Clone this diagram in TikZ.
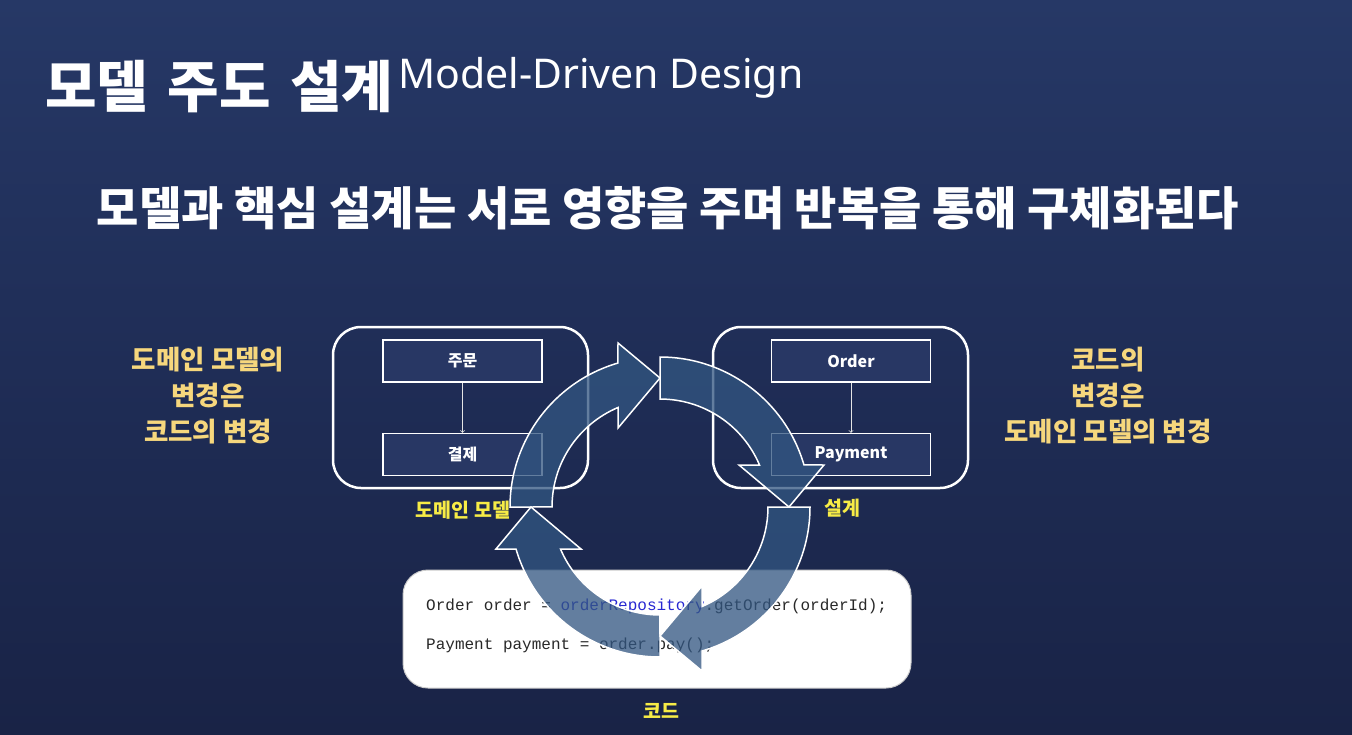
\documentclass[tikz,border=0pt]{standalone}
\usepackage{fontspec}
\setmainfont{Noto Sans}
\newfontfamily\krfont{Noto Sans CJK KR}
\newfontfamily\codefont{Liberation Mono}
\usetikzlibrary{positioning}

\definecolor{bgtop}{RGB}{38,56,102}
\definecolor{bgmid}{RGB}{31,45,86}
\definecolor{bgbot}{RGB}{25,35,70}
\definecolor{boxfill}{RGB}{40,55,100}
\definecolor{labelyellow}{RGB}{247,236,70}
\definecolor{notegold}{RGB}{246,215,125}
\definecolor{cyclefill}{RGB}{50,86,129}
\definecolor{codeblue}{RGB}{40,40,210}
\definecolor{codegray}{RGB}{40,40,40}

\tikzset{
  frame/.style={draw=white, line width=2.5pt, rounded corners=28pt,
    minimum width=255pt, minimum height=161pt},
  entity/.style={draw=white, line width=1.3pt, fill=boxfill, text=white,
    minimum width=159pt, minimum height=42pt, inner sep=0pt,
    font=\krfont\bfseries\fontsize{16}{18}\selectfont},
  caption/.style={text=labelyellow, inner sep=0pt,
    font=\krfont\bfseries\fontsize{19.5}{21}\selectfont},
  note/.style={text=notegold, align=center, inner sep=0pt,
    font=\krfont\bfseries\fontsize{26.5}{36}\selectfont},
  codebox/.style={fill=white, draw=gray!40, line width=1pt, rounded corners=25pt,
    minimum width=508pt, minimum height=118pt},
  codeline/.style={anchor=base west, inner sep=0pt, text=codegray,
    font=\codefont\fontsize{16}{18}\selectfont},
  cyclearrow/.style={fill=cyclefill, fill opacity=0.76, draw=white,
    line width=1.5pt, line join=miter},
}

\begin{document}
\begin{tikzpicture}[x=1pt,y=-1pt]
        \useasboundingbox (0,0) rectangle (1352,734);
        \shade[top color=bgtop, bottom color=bgbot, middle color=bgmid] (0,0) rectangle (1352,734);
        % title
        \node[anchor=base west, inner sep=0pt, text=white,
          font=\krfont\bfseries\fontsize{56}{62}\selectfont] at (45,107) (title)
          {모델\hspace{0.12em} 주도\hspace{0.12em} 설계};
        \node[anchor=base west, inner sep=0pt, text=white,
          font=\fontsize{41}{46}\selectfont] at (398,88) (english) {Model-Driven Design};
        \node[inner sep=0pt, text=white,
          font=\krfont\bfseries\fontsize{46}{50}\selectfont] at (668,208) (subtitle)
          {모델과 핵심 설계는 서로 영향을 주며 반복을 통해 구체화된다};
        % side notes
        \node[note] at (208,396) (leftnote) {도메인 모델의\\변경은\\코드의 변경};
        \node[note] at (1108,396) (rightnote) {코드의\\변경은\\도메인 모델의 변경};
        % domain model
        \node[frame] at (460.5,407.5) (domainframe) {};
        \node[entity] at (462.5,361) (jumun) {주문};
        \node[entity] at (462.5,454.5) (gyeolje) {결제};
        \draw[->, white!80!gray, line width=0.8pt] (jumun) -- (gyeolje);
        % design
        \node[frame] at (840.5,407.5) (designframe) {};
        \node[entity] at (851,361) (order) {Order};
        \node[entity] at (851,454.5) (payment) {Payment};
        \draw[->, white!80!gray, line width=0.8pt] (order) -- (payment);
        % code
        \node[codebox] at (657,629) (codeframe) {};
        \node[codeline] at (426,610) (line1)
          {Order order = {\color{codeblue}orderRepository}.getOrder(orderId);};
        \node[codeline] at (426,649) (line2) {Payment payment = order.pay();};
        % cycle
        \begin{scope}[shift={(660,507)}, yscale=-1]
          \foreach \turn in {0,-90,-180,-270}
            \draw[cyclearrow, rotate=\turn] (180:150)
              arc[start angle=180, end angle=106.3, radius=150]
              -- (-42,164) -- (0,129) -- (-42,79) -- (-42,99.5)
              arc[start angle=112.9, end angle=180, radius=108] -- cycle;
        \end{scope}
        % captions
        \node[caption] at (463,510) (domaincap) {도메인 모델};
        \node[caption] at (842,508) (designcap) {설계};
        \node[caption] at (661,711) (codecap) {코드};
      \end{tikzpicture}
\end{document}
